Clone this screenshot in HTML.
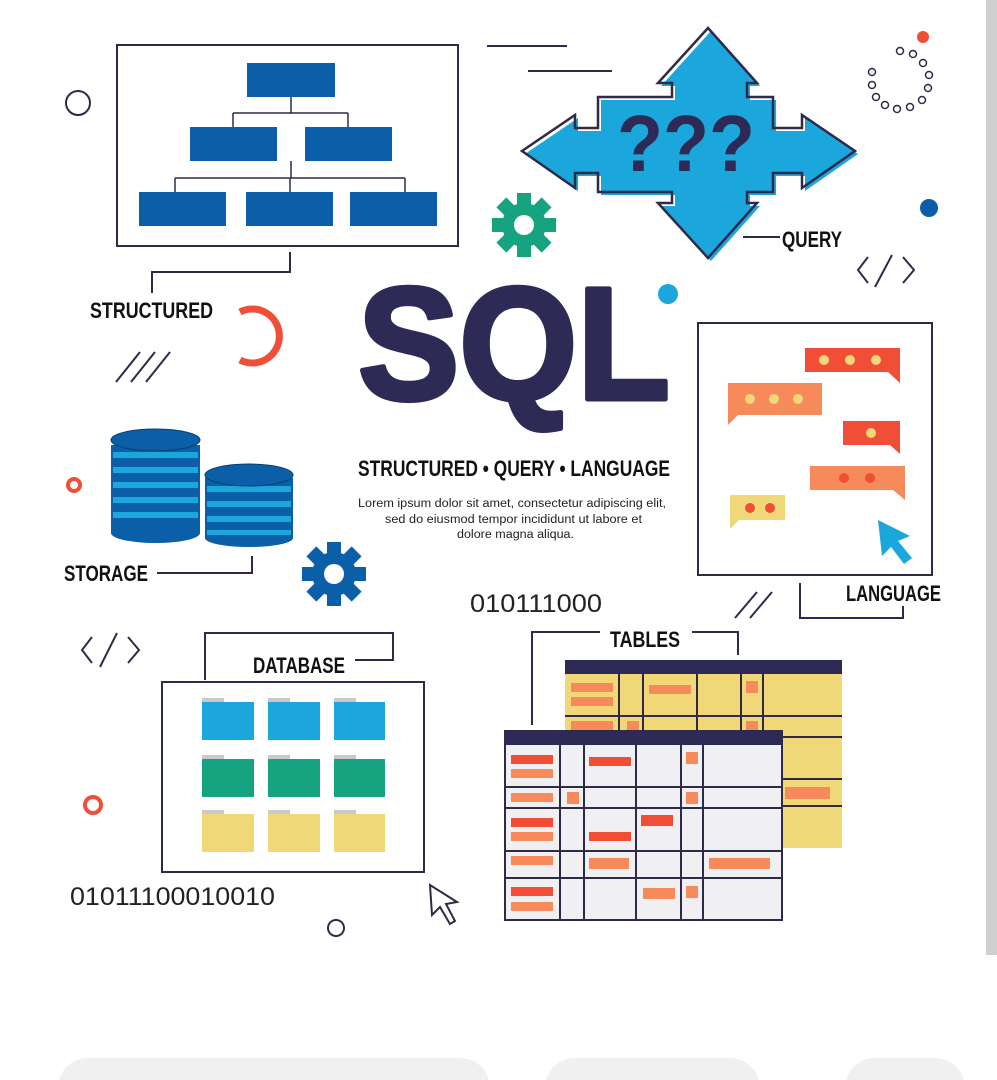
<!DOCTYPE html>
<html><head><meta charset="utf-8"><style>
html,body{margin:0;padding:0;background:#fff;width:997px;height:1080px;overflow:hidden}
svg{display:block}
.c{font-family:"Liberation Sans",sans-serif;font-weight:bold;fill:#111}
</style></head><body>
<svg width="997" height="1080" viewBox="0 0 997 1080" xmlns="http://www.w3.org/2000/svg">
<rect x="986" y="0" width="11" height="955" fill="#cfcfcf"/>
<rect x="58" y="1058" width="432" height="60" rx="30" fill="#f0f0f0"/>
<rect x="545" y="1058" width="215" height="60" rx="30" fill="#f0f0f0"/>
<rect x="845" y="1058" width="120" height="60" rx="30" fill="#f0f0f0"/>
<g stroke="#2d2a4a" stroke-width="2" fill="none">
<rect x="117" y="45" width="341" height="201"/>
<polyline points="290,252 290,272 152,272 152,293"/>
<line x1="487" y1="46" x2="567" y2="46"/><line x1="528" y1="71" x2="612" y2="71"/>
<circle cx="78" cy="103" r="12"/>
<line x1="116" y1="382" x2="140" y2="352"/><line x1="131" y1="382" x2="155" y2="352"/><line x1="146" y1="382" x2="170" y2="352"/>
<line x1="743" y1="237" x2="780" y2="237"/>
<polyline points="868,257 858,270 868,283"/><line x1="875" y1="287" x2="892" y2="255"/><polyline points="903,257 914,270 903,283"/>
<rect x="698" y="323" width="234" height="252"/>
<polyline points="800,583 800,618 903,618 903,606"/>
<line x1="735" y1="618" x2="757" y2="592"/><line x1="750" y1="618" x2="772" y2="592"/>
<polyline points="157,573 252,573 252,556"/>
<polyline points="92,637 82,650 92,663"/><line x1="100" y1="667" x2="117" y2="633"/><polyline points="128,637 139,650 128,663"/>
<polyline points="205,680 205,633 393,633 393,660 355,660"/>
<rect x="162" y="682" width="262" height="190"/>
<circle cx="336" cy="928" r="8"/>
<path d="M430,885 L432,915 L440,907 L450,924 L455,921 L446,904 L457,902 Z"/>
<polyline points="532,725 532,632 600,632"/><polyline points="692,632 738,632 738,655"/>
</g>
<g stroke="#2d2a4a" stroke-width="1.5">
<line x1="291" y1="97" x2="291" y2="113"/><line x1="233" y1="113" x2="348" y2="113"/><line x1="233" y1="113" x2="233" y2="127"/><line x1="348" y1="113" x2="348" y2="127"/>
<line x1="291" y1="161" x2="291" y2="178"/><line x1="175" y1="178" x2="405" y2="178"/><line x1="175" y1="178" x2="175" y2="192"/><line x1="290" y1="178" x2="290" y2="192"/><line x1="405" y1="178" x2="405" y2="192"/>
</g>
<g fill="#0a5fa8">
<rect x="247" y="63" width="88" height="34"/><rect x="190" y="127" width="87" height="34"/><rect x="305" y="127" width="87" height="34"/>
<rect x="139" y="192" width="87" height="34"/><rect x="246" y="192" width="87" height="34"/><rect x="350" y="192" width="87" height="34"/>
</g>
<text x="90" y="318" class="c" font-size="22" textLength="123" lengthAdjust="spacingAndGlyphs">STRUCTURED</text>
<path d="M240,312 A27,27 0 1 1 240,360" fill="none" stroke="#f04e37" stroke-width="7"/>
<polygon points="708,28 757,83 747,83 747,97 773,97 773,128 802,128 802,115 855,151 802,188 802,173 773,173 773,192 747,192 747,203 757,203 708,258 658,203 672,203 672,192 598,192 598,173 575,173 575,188 522,151 575,115 575,128 598,128 598,97 672,97 672,83 658,83" fill="#1ba6dc" transform="translate(3,3)"/>
<polygon points="708,28 757,83 747,83 747,97 773,97 773,128 802,128 802,115 855,151 802,188 802,173 773,173 773,192 747,192 747,203 757,203 708,258 658,203 672,203 672,192 598,192 598,173 575,173 575,188 522,151 575,115 575,128 598,128 598,97 672,97 672,83 658,83" fill="none" stroke="#2d2a4a" stroke-width="2.5"/>
<text x="617" y="171" font-family="Liberation Sans,sans-serif" font-weight="bold" font-size="80" fill="#2d2b55" textLength="138" lengthAdjust="spacingAndGlyphs">???</text>
<text x="782" y="247" class="c" font-size="22" textLength="60" lengthAdjust="spacingAndGlyphs">QUERY</text>
<g transform="translate(524,225)" fill="#16a37f"><circle r="22"/><rect x="-7" y="-32" width="14" height="64"/><rect x="-7" y="-32" width="14" height="64" transform="rotate(45)"/><rect x="-7" y="-32" width="14" height="64" transform="rotate(90)"/><rect x="-7" y="-32" width="14" height="64" transform="rotate(135)"/><circle r="10" fill="#fff"/></g>
<g transform="translate(334,574)" fill="#0a5fa8"><circle r="22"/><rect x="-7" y="-32" width="14" height="64"/><rect x="-7" y="-32" width="14" height="64" transform="rotate(45)"/><rect x="-7" y="-32" width="14" height="64" transform="rotate(90)"/><rect x="-7" y="-32" width="14" height="64" transform="rotate(135)"/><circle r="10" fill="#fff"/></g>
<g fill="none" stroke="#2d2a4a" stroke-width="1.5">
<circle cx="900" cy="51" r="3.5"/><circle cx="913" cy="54" r="3.5"/><circle cx="923" cy="63" r="3.5"/><circle cx="929" cy="75" r="3.5"/><circle cx="928" cy="88" r="3.5"/><circle cx="922" cy="100" r="3.5"/><circle cx="910" cy="107" r="3.5"/><circle cx="897" cy="109" r="3.5"/><circle cx="885" cy="105" r="3.5"/><circle cx="876" cy="97" r="3.5"/><circle cx="872" cy="85" r="3.5"/><circle cx="872" cy="72" r="3.5"/>
</g>
<circle cx="923" cy="37" r="6" fill="#f04e37"/>
<circle cx="929" cy="208" r="9" fill="#0a5fa8"/>
<circle cx="668" cy="294" r="10" fill="#1ba6dc"/>
<text x="358" y="399" font-family="Liberation Sans,sans-serif" font-weight="bold" font-size="160" fill="#2d2b55" stroke="#2d2b55" stroke-width="5" stroke-linejoin="round" textLength="312" lengthAdjust="spacingAndGlyphs">SQL</text>
<text x="358" y="476" class="c" font-size="22" textLength="312" lengthAdjust="spacingAndGlyphs">STRUCTURED • QUERY • LANGUAGE</text>
<g font-family="Liberation Sans,sans-serif" font-size="11.5" fill="#222">
<text x="358" y="507" textLength="308" lengthAdjust="spacingAndGlyphs">Lorem ipsum dolor sit amet, consectetur adipiscing elit,</text>
<text x="385" y="523" textLength="257" lengthAdjust="spacingAndGlyphs">sed do eiusmod tempor incididunt ut labore et</text>
<text x="457" y="538" textLength="117" lengthAdjust="spacingAndGlyphs">dolore magna aliqua.</text>
</g>
<path d="M805,348 h95 v35 l-12,-11 h-83 z" fill="#f04e37"/>
<g fill="#f0d878"><circle cx="824" cy="360" r="5"/><circle cx="850" cy="360" r="5"/><circle cx="876" cy="360" r="5"/></g>
<path d="M728,383 h94 v32 h-84 l-10,10 z" fill="#f78a5a"/>
<g fill="#f0d878"><circle cx="750" cy="399" r="5"/><circle cx="774" cy="399" r="5"/><circle cx="798" cy="399" r="5"/></g>
<path d="M843,421 h57 v33 l-10,-9 h-47 z" fill="#f04e37"/><circle cx="871" cy="433" r="5" fill="#f0d878"/>
<path d="M810,466 h95 v34 l-12,-10 h-83 z" fill="#f78a5a"/><g fill="#f04e37"><circle cx="844" cy="478" r="5"/><circle cx="870" cy="478" r="5"/></g>
<path d="M730,495 h55 v25 h-46 l-9,9 z" fill="#f0d878"/><g fill="#f04e37"><circle cx="750" cy="508" r="5"/><circle cx="770" cy="508" r="5"/></g>
<path d="M878,520 L910,536 L898,541 L912,558 L904,564 L891,547 L882,556 Z" fill="#1ba6dc"/>
<text x="846" y="601" class="c" font-size="22" textLength="95" lengthAdjust="spacingAndGlyphs">LANGUAGE</text>
<g>
<rect x="111" y="445" width="89" height="88" fill="#0a5fa8"/>
<ellipse cx="155.5" cy="533" rx="44.5" ry="10" fill="#0a5fa8"/>
<g fill="#1ba6dc"><rect x="113" y="452" width="85" height="6"/><rect x="113" y="467" width="85" height="6"/><rect x="113" y="482" width="85" height="6"/><rect x="113" y="497" width="85" height="6"/><rect x="113" y="512" width="85" height="6"/></g>
<ellipse cx="155.5" cy="440" rx="44.5" ry="11" fill="#0a5fa8" stroke="#073f73" stroke-width="1"/>
</g>
<g>
<rect x="205" y="478" width="88" height="60" fill="#0a5fa8"/>
<ellipse cx="249" cy="538" rx="44" ry="9" fill="#0a5fa8"/>
<g fill="#1ba6dc"><rect x="207" y="486" width="84" height="6"/><rect x="207" y="501" width="84" height="6"/><rect x="207" y="516" width="84" height="6"/><rect x="207" y="530" width="84" height="5"/></g>
<ellipse cx="249" cy="475" rx="44" ry="11" fill="#0a5fa8" stroke="#073f73" stroke-width="1"/>
</g>
<text x="64" y="581" class="c" font-size="22" textLength="84" lengthAdjust="spacingAndGlyphs">STORAGE</text>
<circle cx="74" cy="485" r="6" fill="none" stroke="#f04e37" stroke-width="4"/>
<circle cx="93" cy="805" r="8" fill="none" stroke="#f04e37" stroke-width="4"/>
<text x="470" y="612" font-family="Liberation Sans,sans-serif" font-size="25" fill="#222" textLength="132" lengthAdjust="spacingAndGlyphs">010111000</text>
<text x="70" y="905" font-family="Liberation Sans,sans-serif" font-size="25" fill="#222" textLength="205" lengthAdjust="spacingAndGlyphs">01011100010010</text>
<text x="253" y="673" class="c" font-size="22" textLength="92" lengthAdjust="spacingAndGlyphs">DATABASE</text>
<g>
<g fill="#c9c9c9"><rect x="202" y="698" width="22" height="6"/><rect x="268" y="698" width="22" height="6"/><rect x="334" y="698" width="22" height="6"/><rect x="202" y="755" width="22" height="6"/><rect x="268" y="755" width="22" height="6"/><rect x="334" y="755" width="22" height="6"/><rect x="202" y="810" width="22" height="6"/><rect x="268" y="810" width="22" height="6"/><rect x="334" y="810" width="22" height="6"/></g>
<g fill="#1ba6dc"><rect x="202" y="702" width="52" height="38"/><rect x="268" y="702" width="52" height="38"/><rect x="334" y="702" width="51" height="38"/></g>
<g fill="#16a37f"><rect x="202" y="759" width="52" height="38"/><rect x="268" y="759" width="52" height="38"/><rect x="334" y="759" width="51" height="38"/></g>
<g fill="#f0d878"><rect x="202" y="814" width="52" height="38"/><rect x="268" y="814" width="52" height="38"/><rect x="334" y="814" width="51" height="38"/></g>
</g>
<text x="610" y="647" class="c" font-size="22" textLength="70" lengthAdjust="spacingAndGlyphs">TABLES</text>
<rect x="565" y="660" width="277" height="188" fill="#f0d878"/>
<rect x="565" y="660" width="277" height="14" fill="#2d2a55"/>
<g stroke="#2d2a4a" stroke-width="2"><line x1="619" y1="674" x2="619" y2="735"/><line x1="643" y1="674" x2="643" y2="735"/><line x1="697" y1="674" x2="697" y2="735"/><line x1="741" y1="674" x2="741" y2="735"/><line x1="763" y1="674" x2="763" y2="735"/>
<line x1="565" y1="716" x2="842" y2="716"/><line x1="782" y1="737" x2="842" y2="737"/><line x1="782" y1="779" x2="842" y2="779"/><line x1="782" y1="806" x2="842" y2="806"/></g>
<g fill="#f78a5a"><rect x="571" y="683" width="42" height="9"/><rect x="571" y="697" width="42" height="9"/><rect x="649" y="685" width="42" height="9"/><rect x="746" y="681" width="12" height="12"/><rect x="571" y="721" width="42" height="9"/><rect x="627" y="721" width="12" height="9"/><rect x="746" y="721" width="12" height="9"/><rect x="785" y="787" width="45" height="12"/></g>
<rect x="505" y="731" width="277" height="189" fill="#f0f0f2" stroke="#2d2a4a" stroke-width="2"/>
<rect x="505" y="731" width="277" height="14" fill="#2d2a55"/>
<g stroke="#2d2a4a" stroke-width="2"><line x1="560" y1="745" x2="560" y2="920"/><line x1="584" y1="745" x2="584" y2="920"/><line x1="636" y1="745" x2="636" y2="920"/><line x1="681" y1="745" x2="681" y2="920"/><line x1="703" y1="745" x2="703" y2="920"/>
<line x1="505" y1="787" x2="782" y2="787"/><line x1="505" y1="808" x2="782" y2="808"/><line x1="505" y1="851" x2="782" y2="851"/><line x1="505" y1="878" x2="782" y2="878"/></g>
<g fill="#f04e37"><rect x="511" y="755" width="42" height="9"/><rect x="589" y="757" width="42" height="9"/><rect x="511" y="818" width="42" height="9"/><rect x="641" y="815" width="32" height="11"/><rect x="589" y="832" width="42" height="9"/><rect x="511" y="887" width="42" height="9"/></g>
<g fill="#f78a5a"><rect x="511" y="769" width="42" height="9"/><rect x="686" y="752" width="12" height="12"/><rect x="511" y="793" width="42" height="9"/><rect x="567" y="792" width="12" height="12"/><rect x="686" y="792" width="12" height="12"/><rect x="511" y="832" width="42" height="9"/><rect x="511" y="856" width="42" height="9"/><rect x="589" y="858" width="40" height="11"/><rect x="709" y="858" width="61" height="11"/><rect x="511" y="902" width="42" height="9"/><rect x="643" y="888" width="32" height="11"/><rect x="686" y="886" width="12" height="12"/></g>
</svg>
</body></html>
